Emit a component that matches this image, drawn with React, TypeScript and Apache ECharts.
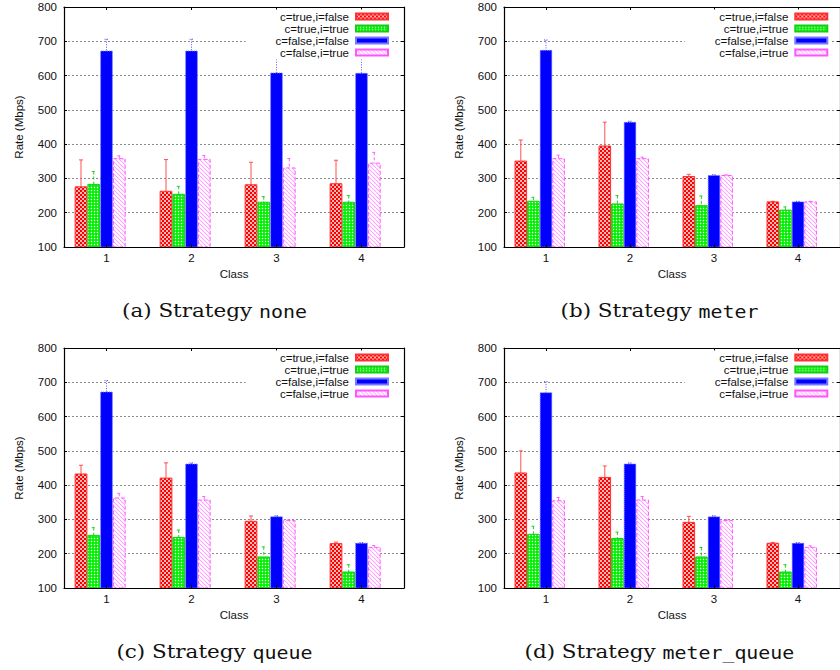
import React, { useEffect, useRef } from 'react';
import * as echarts from 'echarts';

// ---------- data ----------
const classes = ['1', '2', '3', '4'];
const configNames = ['c=true,i=false', 'c=true,i=true', 'c=false,i=false', 'c=false,i=true'];
const yTickMin = 100;
const yTickMax = 800;
const yTickStep = 100;

// (a) Strategy none
const noneTrueFalse = [277, 264, 283, 286];
const noneTrueFalseErr = [77, 91, 64, 67];
const noneTrueTrue = [284, 255, 232, 232];
const noneTrueTrueErr = [36, 22, 15, 18];
const noneFalseFalse = [673, 673, 609, 608];
const noneFalseFalseErr = [33, 33, 53, 54];
const noneFalseTrue = [359, 357, 332, 346];
const noneFalseTrueErr = [7, 10, 26, 30];

// (b) Strategy meter
const meterTrueFalse = [352, 396, 307, 233];
const meterTrueFalseErr = [60, 68, 5, 0];
const meterTrueTrue = [235, 227, 222, 209];
const meterTrueTrueErr = [10, 23, 27, 8];
const meterFalseFalse = [675, 465, 310, 233];
const meterFalseFalseErr = [29, 2, 1, 0];
const meterFalseTrue = [359, 359, 310, 233];
const meterFalseTrueErr = [9, 3, 0, 0];

// (c) Strategy queue
const queueTrueFalse = [434, 422, 296, 231];
const queueTrueFalseErr = [24, 43, 14, 3];
const queueTrueTrue = [255, 249, 192, 148];
const queueTrueTrueErr = [21, 20, 28, 20];
const queueFalseFalse = [673, 463, 309, 232];
const queueFalseFalseErr = [32, 2, 2, 0];
const queueFalseTrue = [364, 358, 298, 220];
const queueFalseTrueErr = [12, 9, 1, 4];

// (d) Strategy meter_queue
const mqTrueFalse = [437, 424, 293, 232];
const mqTrueFalseErr = [63, 32, 16, 1];
const mqTrueTrue = [258, 246, 192, 148];
const mqTrueTrueErr = [22, 17, 26, 20];
const mqFalseFalse = [671, 463, 309, 232];
const mqFalseFalseErr = [31, 2, 2, 0];
const mqFalseTrue = [356, 358, 298, 220];
const mqFalseTrueErr = [8, 9, 1, 3];

const panelLetters = ['a', 'b', 'c', 'd'];
const panelStrategies = ['none', 'meter', 'queue', 'meter_queue'];
const panelValues = [
  [noneTrueFalse, noneTrueTrue, noneFalseFalse, noneFalseTrue],
  [meterTrueFalse, meterTrueTrue, meterFalseFalse, meterFalseTrue],
  [queueTrueFalse, queueTrueTrue, queueFalseFalse, queueFalseTrue],
  [mqTrueFalse, mqTrueTrue, mqFalseFalse, mqFalseTrue],
];
const panelErrors = [
  [noneTrueFalseErr, noneTrueTrueErr, noneFalseFalseErr, noneFalseTrueErr],
  [meterTrueFalseErr, meterTrueTrueErr, meterFalseFalseErr, meterFalseTrueErr],
  [queueTrueFalseErr, queueTrueTrueErr, queueFalseFalseErr, queueFalseTrueErr],
  [mqTrueFalseErr, mqTrueTrueErr, mqFalseFalseErr, mqFalseTrueErr],
];

// ---------- layout ----------
const layouts = [
  { left: 64, top: 7, legendRight: 448, legendTop: 9.5, capX: 214.5, capY: 311.5 },
  { left: 504, top: 7, legendRight: 8.7, legendTop: 9.5, capX: 659.5, capY: 311.5 },
  { left: 64, top: 348, legendRight: 448, legendTop: 350.5, capX: 214.5, capY: 652.5 },
  { left: 504, top: 348, legendRight: 8.7, legendTop: 350.5, capX: 659.5, capY: 652.5 },
];
const PLOT_W = 340;
const PLOT_H = 240;
const FONT = 'Liberation Sans';
const TXT = '#111';

function tile(size: number, draw: (ctx: CanvasRenderingContext2D) => void) {
  const k = 4;
  const c = document.createElement('canvas');
  c.width = size * k;
  c.height = size * k;
  const ctx = c.getContext('2d')!;
  ctx.scale(k, k);
  draw(ctx);
  return { image: c, repeat: 'repeat', imageWidth: size, imageHeight: size };
}

export default function App() {
  const ref = useRef<HTMLDivElement>(null);

  useEffect(() => {
    if (!ref.current) return;
    const chart = echarts.init(ref.current, undefined, { renderer: 'svg' });

    const redPattern = tile(4, (ctx) => {
      ctx.fillStyle = '#ff0000';
      ctx.fillRect(0, 0, 4, 4);
      ctx.fillStyle = '#ffffff';
      for (const [x, y] of [[1, 1], [3, 3]]) {
        ctx.beginPath();
        ctx.arc(x, y, 0.95, 0, Math.PI * 2);
        ctx.fill();
      }
    });
    const greenPattern = tile(3, (ctx) => {
      ctx.fillStyle = '#00f000';
      ctx.fillRect(0, 0, 3, 3);
      ctx.fillStyle = '#ffffff';
      ctx.beginPath();
      ctx.arc(1.5, 1.5, 0.72, 0, Math.PI * 2);
      ctx.fill();
    });
    const pinkPattern = tile(4, (ctx) => {
      ctx.fillStyle = '#ffffff';
      ctx.fillRect(0, 0, 4, 4);
      ctx.strokeStyle = '#ff90ff';
      ctx.lineWidth = 0.8;
      for (const x0 of [-4, 0, 4]) {
        ctx.beginPath();
        ctx.moveTo(x0, 0);
        ctx.lineTo(x0 + 4, 4);
        ctx.stroke();
      }
    });

    const styles = [
      { fill: redPattern, border: '#ff3030', borderType: 'solid', err: '#ff5050', errDash: null as any },
      { fill: greenPattern, border: '#10d010', borderType: 'solid', err: '#20d020', errDash: [3, 2] },
      { fill: '#0000ff', border: '#7878ff', borderType: 'dotted', err: '#5858ff', errDash: [1, 1.5] },
      { fill: pinkPattern, border: '#ff55ff', borderType: 'dashed', err: '#ff60ff', errDash: [3, 2] },
    ];

    const grid: any[] = [];
    const xAxis: any[] = [];
    const yAxis: any[] = [];
    const legend: any[] = [];
    const series: any[] = [];

    layouts.forEach((l, p) => {
      grid.push({ left: l.left, top: l.top, width: PLOT_W, height: PLOT_H, show: false });
      xAxis.push({
        type: 'category', gridIndex: p, data: classes, position: 'bottom', z: 3,
        axisLine: { show: true, onZero: false, lineStyle: { color: '#000', width: 1.2 } },
        axisTick: { show: true, inside: true, alignWithLabel: true, length: 3, lineStyle: { color: '#000' } },
        axisLabel: { margin: 5, fontSize: 11.5, color: TXT, fontFamily: FONT },
        splitLine: { show: false },
        name: 'Class', nameLocation: 'middle', nameGap: 21,
        nameTextStyle: { fontSize: 11.5, color: TXT, fontFamily: FONT },
      });
      xAxis.push({
        type: 'category', gridIndex: p, data: classes, position: 'top', z: 3,
        axisLine: { show: true, onZero: false, lineStyle: { color: '#000', width: 1.2 } },
        axisTick: { show: true, inside: true, alignWithLabel: true, length: 3, lineStyle: { color: '#000' } },
        axisLabel: { show: false },
        splitLine: { show: false },
      });
      yAxis.push({
        type: 'value', gridIndex: p, min: yTickMin, max: yTickMax, interval: yTickStep, position: 'left',
        axisLine: { show: true, lineStyle: { color: '#000', width: 1.2 } },
        axisTick: { show: true, inside: true, length: 3, lineStyle: { color: '#000' } },
        axisLabel: { margin: 7, fontSize: 11.5, color: TXT, fontFamily: FONT },
        splitLine: { show: true, lineStyle: { color: '#8a8a8a', type: [2, 2], width: 1 } },
        name: 'Rate (Mbps)', nameLocation: 'middle', nameGap: 39,
        nameTextStyle: { fontSize: 11.5, color: TXT, fontFamily: FONT },
      });
      yAxis.push({
        type: 'value', gridIndex: p, min: yTickMin, max: yTickMax, interval: yTickStep, position: 'right', z: 3,
        axisLine: { show: true, lineStyle: { color: '#000', width: 1.2 } },
        axisTick: { show: true, inside: true, length: 3, lineStyle: { color: '#000' } },
        axisLabel: { show: false },
        splitLine: { show: false },
      });
      legend.push({
        orient: 'vertical', right: l.legendRight, top: l.legendTop, align: 'right',
        icon: 'rect', itemWidth: 32, itemHeight: 6, itemGap: 0,
        backgroundColor: '#ffffff', padding: [1, 3, 1, 30], selectedMode: false,
        data: configNames,
        textStyle: { fontSize: 11.5, color: TXT, fontFamily: FONT, lineHeight: 11.2, padding: [0, 2, 0, 0] },
      });

      const xi = p * 2;
      const yi = p * 2;
      configNames.forEach((name, j) => {
        const s = styles[j];
        series.push({
          type: 'bar', name, xAxisIndex: xi, yAxisIndex: yi,
          data: panelValues[p][j], barGap: '0%', barCategoryGap: '25%',
          silent: true,
          itemStyle: { color: s.fill, borderColor: s.border, borderWidth: 1, borderType: s.borderType },
          emphasis: { disabled: true },
        });
      });
      // empty slot that gnuplot leaves after the 4th bar of each cluster
      series.push({
        type: 'bar', name: '_gap', xAxisIndex: xi, yAxisIndex: yi,
        data: ['-', '-', '-', '-'], barGap: '0%', barCategoryGap: '25%', silent: true,
      });
      configNames.forEach((name, j) => {
        const s = styles[j];
        series.push({
          type: 'custom', name: name + ' err', xAxisIndex: xi, yAxisIndex: yi, silent: true, clip: true,
          data: panelValues[p][j].map((v, i) => [i, v, panelErrors[p][j][i]]),
          renderItem: (params: any, api: any) => {
            const ci = api.value(0);
            const v = api.value(1);
            const e = api.value(2);
            const band = api.size([1, 0])[0];
            const bw = band * 0.15;
            const x = api.coord([ci, v])[0] + (j - 2) * bw;
            const yTop = api.coord([ci, v + e])[1];
            const yBot = api.coord([ci, Math.max(v - e, yTickMin)])[1];
            const c = 2;
            const style: any = { stroke: s.err, lineWidth: 1, fill: null };
            if (s.errDash) style.lineDash = s.errDash;
            return {
              type: 'group',
              children: [
                { type: 'line', shape: { x1: x, y1: yTop, x2: x, y2: yBot }, style },
                { type: 'line', shape: { x1: x - c, y1: yTop, x2: x + c, y2: yTop }, style },
                { type: 'line', shape: { x1: x - c, y1: yBot, x2: x + c, y2: yBot }, style },
              ],
            };
          },
        });
      });
    });

    // captions
    const serifFont = '18px "DejaVu Serif"';
    const monoFont = '18px "DejaVu Sans Mono"';
    const mctx = document.createElement('canvas').getContext('2d')!;
    const measure = (t: string, f: string) => { mctx.font = f; return mctx.measureText(t).width; };
    const sScale = 137 / measure('(a) Strategy ', serifFont);
    const mScale = 48 / measure('none', monoFont);
    const graphic: any[] = [];
    layouts.forEach((l, p) => {
      const pre = `(${panelLetters[p]}) Strategy `;
      const mono = panelStrategies[p];
      const w1 = measure(pre, serifFont) * sScale;
      const w2 = measure(mono, monoFont) * mScale;
      const left = l.capX - (w1 + w2) / 2;
      graphic.push({
        type: 'text', x: left, y: l.capY, scaleX: sScale, silent: true,
        style: { text: pre, fontSize: 18, fontFamily: 'DejaVu Serif', fill: '#111', verticalAlign: 'middle' },
      });
      graphic.push({
        type: 'text', x: left + w1, y: l.capY, scaleX: mScale, silent: true,
        style: { text: mono, fontSize: 18, fontFamily: 'DejaVu Sans Mono', fill: '#111', verticalAlign: 'middle' },
      });
    });

    chart.setOption({
      animation: false,
      backgroundColor: '#ffffff',
      textStyle: { fontFamily: FONT },
      grid, xAxis, yAxis, legend, series, graphic,
    });
    return () => chart.dispose();
  }, []);

  return <div ref={ref} style={{ position: 'absolute', left: 0, top: 0, width: 840, height: 670 }} />;
}
